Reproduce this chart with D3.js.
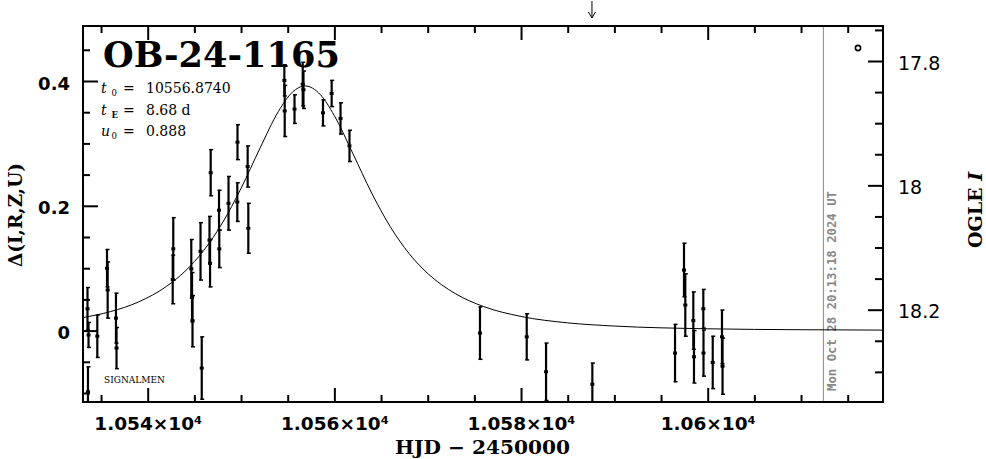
<!DOCTYPE html>
<html><head><meta charset="utf-8">
<script src="https://cdn.jsdelivr.net/npm/d3@7"></script>
<style>body{margin:0;background:#fff}svg{display:block}</style>
</head><body>
<svg id="c" width="986" height="459"></svg>
<script>
// ---- data ----
const obsT = [10533.55,10533.66,10533.60,10534.60,10535.64,10535.71,10536.60,10536.66,
  10542.74,10542.68,10544.67,10544.75,10544.80,10545.66,10545.79,10546.62,10546.68,10546.75,
  10547.64,10547.67,10548.66,10549.62,10549.60,10550.71,10550.78,
  10554.64,10554.68,10555.73,10556.61,10556.69,10558.78,10559.71,10560.66,10561.62,
  10575.60,10580.61,10582.68,10587.64,
  10596.50,10597.46,10597.60,10598.46,10598.53,10599.53,10599.55,10600.54,10601.53,10601.59];
const obsD = [0.035,-0.007,-0.098,-0.009,0.100,0.065,0.020,-0.028,
  0.131,0.082,0.099,0.055,0.015,0.127,-0.060,0.145,0.108,0.253,
  0.193,0.131,0.204,0.302,0.206,0.263,0.164,
  0.401,0.352,0.355,0.395,0.386,0.349,0.380,0.340,0.296,
  -0.004,-0.010,-0.066,-0.086,
  -0.036,0.097,0.041,0.016,-0.042,0.035,-0.036,-0.051,-0.010,-0.057];
const obsE = [0.034,0.020,0.040,0.034,0.030,0.045,0.040,0.033,
  0.050,0.039,0.047,0.038,0.041,0.046,0.050,0.038,0.038,0.037,
  0.032,0.030,0.043,0.028,0.031,0.033,0.040,
  0.025,0.041,0.023,0.035,0.030,0.021,0.021,0.025,0.025,
  0.042,0.037,0.046,0.034,
  0.046,0.043,0.050,0.046,0.042,0.031,0.037,0.042,0.043,0.045];
// model curve
const modelT = [10533,10536,10539,10542,10544,10546,10548,10550,10552,10554,10555.5,10556.87,
  10558.5,10560,10562,10564,10566,10568,10570,10573,10576,10580,10585,10590,10600,10610,10619];
const modelD = [0.0207,0.0304,0.0458,0.0707,0.0951,0.1284,0.1725,0.2279,0.2913,0.3511,0.3820,0.3921,
  0.3781,0.3444,0.2832,0.2204,0.1663,0.1236,0.0916,0.0589,0.0385,0.0227,0.0124,0.0073,0.0029,0.0014,0.0008];
const xMajor = [10540,10560,10580,10600];
const xLabels = ["1.054×10⁴","1.056×10⁴","1.058×10⁴","1.06×10⁴"];
const xMinor = [10535,10545,10550,10555,10565,10570,10575,10585,10590,10595,10605,10610,10615];
const yMajor = [0,0.2,0.4];
const yLabels = ["0","0.2","0.4"];
const yMinor = [-0.1,-0.05,0.05,0.1,0.15,0.25,0.3,0.35,0.45];
const magMajor = [17.8,18,18.2];
const magLabels = ["17.8","18","18.2"];
const magMinor = [17.75,17.85,17.9,17.95,18.05,18.1,18.15,18.25,18.3];
const nowT = 10612.4;
const arrowT = 10587.6;
const title = "OB-24-1165";
const params = [["t","0","10556.8740"],["t","E","8.68 d"],["u","0","0.888"]];
const dateText = "Mon Oct 28 20:13:18 2024 UT";

// ---- layout ----
const L = 83, R = 883, T = 26, B = 402;
const svg = d3.select("#c");
svg.append("rect").attr("width",986).attr("height",459).attr("fill","#fff");
const x = d3.scaleLinear().domain([10540,10600]).range([147.7,707.7]);
const y = d3.scaleLinear().domain([0,0.4]).range([330.6,81]);
const mag = d3.scaleLinear().domain([17.8,18.2]).range([61,309.7]);

svg.append("clipPath").attr("id","clip").append("rect")
  .attr("x",L).attr("y",T).attr("width",R-L).attr("height",B-T);

// now line
svg.append("line").attr("x1",x(nowT)).attr("x2",x(nowT)).attr("y1",T).attr("y2",B)
  .attr("stroke","#999").attr("stroke-width",1.2);
svg.append("text").attr("transform",`translate(${x(nowT)+13},391) rotate(-90)`)
  .attr("font-family","DejaVu Sans Mono").attr("font-weight","bold").attr("font-size",12.5)
  .attr("fill","#888").attr("textLength",200).attr("lengthAdjust","spacingAndGlyphs").text(dateText);

// model curve
const g = svg.append("g").attr("clip-path","url(#clip)");
g.append("path").datum(modelT.map((t,i)=>[t,modelD[i]]))
  .attr("d", d3.line().x(d=>x(d[0])).y(d=>y(d[1])).curve(d3.curveMonotoneX))
  .attr("fill","none").attr("stroke","#000").attr("stroke-width",1);

// error bars
const pts = obsT.map((t,i)=>({t, d:obsD[i], e:obsE[i]}));
const eb = g.append("g").attr("stroke","#000").attr("stroke-width",2.2);
pts.forEach(p=>{
  const cx = x(p.t);
  eb.append("line").attr("x1",cx).attr("x2",cx).attr("y1",y(p.d+p.e)).attr("y2",y(p.d-p.e));
  eb.append("line").attr("x1",cx-1.5).attr("x2",cx+2.5).attr("y1",y(p.d+p.e)).attr("y2",y(p.d+p.e)).attr("stroke-width",1.5);
  eb.append("line").attr("x1",cx-1.5).attr("x2",cx+2.5).attr("y1",y(p.d-p.e)).attr("y2",y(p.d-p.e)).attr("stroke-width",1.5);
});
g.selectAll("rect.pt").data(pts).enter().append("rect").attr("class","pt")
  .attr("x",d=>x(d.t)-2).attr("y",d=>y(d.d)-1.5).attr("width",4).attr("height",3).attr("fill","#000");

// axes
function style(sel){ sel.select(".domain").remove(); sel.selectAll("line").attr("stroke","#000").attr("stroke-width",2); }
svg.append("g").attr("transform",`translate(0,${B})`).call(d3.axisBottom(x).tickValues(xMinor).tickSize(-7).tickFormat("")).call(style);
svg.append("g").attr("transform",`translate(0,${T})`).call(d3.axisTop(x).tickValues(xMinor).tickSize(-7).tickFormat("")).call(style);
svg.append("g").attr("transform",`translate(0,${T})`).call(d3.axisTop(x).tickValues(xMajor).tickSize(-14).tickFormat("")).call(style);
const bx = svg.append("g").attr("transform",`translate(0,${B})`)
  .call(d3.axisBottom(x).tickValues(xMajor).tickSize(-14).tickFormat((d,i)=>xLabels[i])).call(style);
bx.selectAll("text").attr("y",28).attr("dy",0).attr("fill","#000")
  .attr("font-family","DejaVu Sans").attr("font-weight","bold").attr("font-size",18.5);

svg.append("g").attr("transform",`translate(${L},0)`).call(d3.axisLeft(y).tickValues(yMinor).tickSize(-7).tickFormat("")).call(style);
const ly = svg.append("g").attr("transform",`translate(${L},0)`)
  .call(d3.axisLeft(y).tickValues(yMajor).tickSize(-15).tickFormat((d,i)=>yLabels[i])).call(style);
ly.selectAll("text").attr("x",-13).attr("dy","0.45em").attr("fill","#000")
  .attr("font-family","DejaVu Sans").attr("font-weight","bold").attr("font-size",18);

svg.append("g").attr("transform",`translate(${R},0)`).call(d3.axisRight(mag).tickValues(magMinor).tickSize(-8).tickFormat("")).call(style);
const ry = svg.append("g").attr("transform",`translate(${R},0)`)
  .call(d3.axisRight(mag).tickValues(magMajor).tickSize(-15).tickFormat((d,i)=>magLabels[i])).call(style);
ry.selectAll("text").attr("x",15).attr("dy","0.43em").attr("fill","#000")
  .attr("font-family","DejaVu Sans").attr("font-size",19);

// frame
svg.append("rect").attr("x",L).attr("y",T).attr("width",R-L).attr("height",B-T)
  .attr("fill","none").attr("stroke","#000").attr("stroke-width",2);

// arrow on top
const ax = x(arrowT);
svg.append("path").attr("d",`M${ax},1 L${ax},18 M${ax-3.5},12 L${ax},18 L${ax+3.5},12`)
  .attr("fill","none").attr("stroke","#000").attr("stroke-width",1);

// circle marker
svg.append("circle").attr("cx",858).attr("cy",48).attr("r",2.6).attr("fill","#fff")
  .attr("stroke","#000").attr("stroke-width",1.6);

// title & parameters
svg.append("text").attr("x",103).attr("y",67).attr("font-family","DejaVu Serif").attr("font-weight","bold")
  .attr("font-size",35).attr("textLength",237).attr("lengthAdjust","spacingAndGlyphs").attr("fill","#000").text(title);
const pY = [93,115,136];
params.forEach((p,i)=>{
  const t = svg.append("g").attr("font-family","DejaVu Serif").attr("font-size",14).attr("fill","#000");
  t.append("text").attr("x",101).attr("y",pY[i]).attr("font-style","italic").text(p[0]);
  t.append("text").attr("x",111.5).attr("y",pY[i]+3).attr("font-size",8.5)
    .attr("font-weight",p[1]==="E"?"bold":"normal").text(p[1]);
  t.append("text").attr("x",123).attr("y",pY[i]).text("=");
  t.append("text").attr("x",146).attr("y",pY[i]).text(p[2]);
});
svg.append("text").attr("x",104).attr("y",383).attr("font-family","DejaVu Serif").attr("font-size",9)
  .attr("textLength",61).attr("lengthAdjust","spacingAndGlyphs").attr("fill","#000").text("SIGNALMEN");

// axis titles
svg.append("text").attr("x",395).attr("y",454).attr("font-family","DejaVu Serif").attr("font-weight","bold")
  .attr("font-size",19).attr("textLength",175).attr("lengthAdjust","spacingAndGlyphs").attr("fill","#000").text("HJD − 2450000");
svg.append("text").attr("transform","translate(22,215) rotate(-90)").attr("text-anchor","middle")
  .attr("font-family","DejaVu Serif").attr("font-weight","bold").attr("font-size",19)
  .attr("textLength",104).attr("lengthAdjust","spacingAndGlyphs").attr("fill","#000").text("Δ(I,R,Z,U)");
const og = svg.append("text").attr("transform","translate(982,210) rotate(-90)").attr("text-anchor","middle")
  .attr("font-family","DejaVu Serif").attr("font-weight","bold").attr("font-size",19).attr("fill","#000");
og.append("tspan").text("OGLE ");
og.append("tspan").attr("font-style","italic").text("I");
</script>
</body></html>
